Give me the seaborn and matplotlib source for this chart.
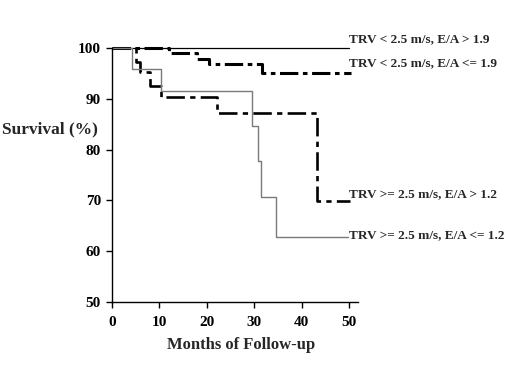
import seaborn as sns
import matplotlib.pyplot as plt
import pandas as pd

# Kaplan-Meier Kurven
t_hi_ea = [0, 50]
s_hi_ea = [100, 100]

t_lo_ea = [0, 12.0, 17.9, 20.5, 31.6, 50.5]
s_lo_ea = [100, 99.0, 97.9, 96.8, 95.1, 95.1]

t_trv_hi = [0, 5.1, 5.9, 8.0, 10.3, 22.1, 43.2, 50.2]
s_trv_hi = [100, 97.3, 95.2, 92.5, 90.3, 87.2, 69.8, 69.8]

t_trv_lo = [0, 4.2, 10.3, 29.5, 30.8, 31.4, 34.7, 49.8]
s_trv_lo = [100, 95.9, 91.6, 84.6, 77.7, 70.6, 62.8, 62.8]

labels = ["TRV < 2.5 m/s, E/A > 1.9", "TRV < 2.5 m/s, E/A <= 1.9",
          "TRV >= 2.5 m/s, E/A > 1.2", "TRV >= 2.5 m/s, E/A <= 1.2"]
label_y = [101.1, 96.4, 70.7, 62.6]

xticks = [0, 10, 20, 30, 40, 50]
yticks = [50, 60, 70, 80, 90, 100]

sns.set_style("white")
plt.rcParams['font.family'] = ['Liberation Serif', 'DejaVu Serif']

fig = plt.figure(figsize=(5.2, 3.78), dpi=100)
ax = fig.add_axes([112/520, 1-302/378, (358-112)/520, (302-48)/378])

curves = [
    (t_hi_ea, s_hi_ea, "black", 0.9, "-"),
    (t_lo_ea, s_lo_ea, "black", 2.2, (0, (6, 1.5, 1.5, 1.5))),
    (t_trv_hi, s_trv_hi, "black", 1.9, (0, (7, 2, 2, 2))),
    (t_trv_lo, s_trv_lo, "#7a7a7a", 1.0, "-"),
]
for t, s, c, lw, ls in curves:
    df = pd.DataFrame({"t": t, "s": s})
    sns.lineplot(data=df, x="t", y="s", drawstyle="steps-post", color=c,
                 linewidth=lw, linestyle=ls, estimator=None, sort=False,
                 ax=ax, clip_on=False)

for lab, y in zip(labels, label_y):
    ax.text(50, y, lab, fontsize=9.5, fontweight="bold", va="baseline",
            ha="left", clip_on=False)

ax.set_xlim(0, 51.9)
ax.set_ylim(50, 100)
ax.set_xticks(xticks)
ax.set_yticks(yticks)
ax.tick_params(axis="both", direction="out", length=4, width=1,
               labelsize=11, colors="black", left=True, bottom=True)
ax.tick_params(axis="x", pad=6)
ax.tick_params(axis="y", pad=4)
for lbl in ax.get_xticklabels() + ax.get_yticklabels():
    lbl.set_fontweight("bold")
for side in ["top", "right"]:
    ax.spines[side].set_visible(False)
for side in ["left", "bottom"]:
    ax.spines[side].set_color("black")
    ax.spines[side].set_linewidth(1)
ax.set_xlabel("")
ax.set_ylabel("")

fig.text(2/520, 1-129/378, "Survival (%)", fontsize=12.5, fontweight="bold",
         va="center", ha="left")
fig.text(241/520, 1-345/378, "Months of Follow-up", fontsize=12,
         fontweight="bold", va="center", ha="center")

plt.savefig("out.png", dpi=100)
